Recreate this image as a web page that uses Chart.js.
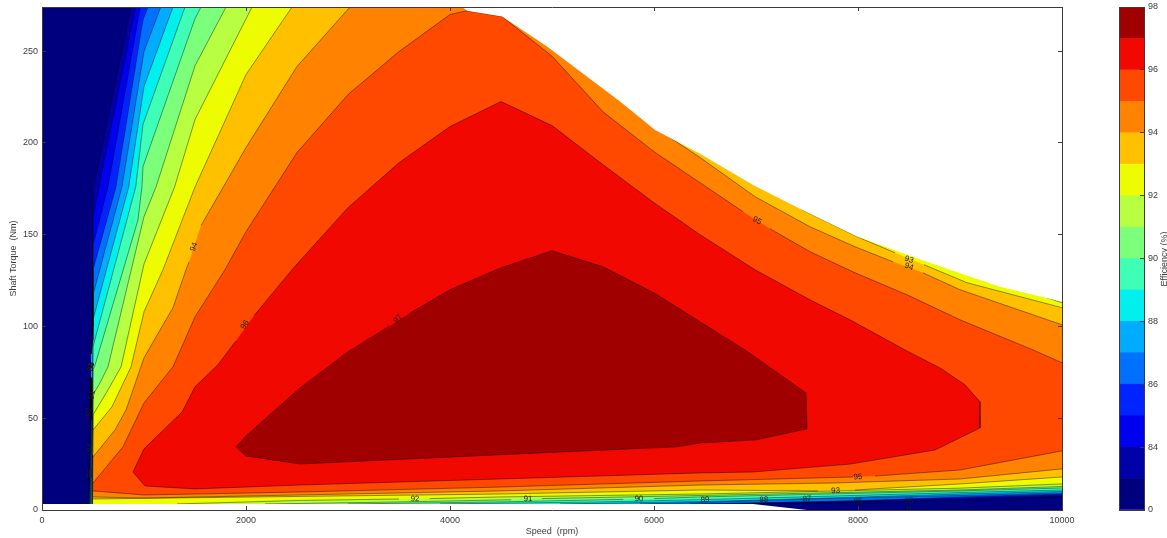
<!DOCTYPE html>
<html>
<head>
<meta charset="utf-8">
<title>Efficiency map</title>
<script src="https://cdn.jsdelivr.net/npm/chart.js@4/dist/chart.umd.min.js"></script>
<style>
html, body { margin: 0; padding: 0; width: 1167px; height: 538px; overflow: hidden; background: #fff; }
canvas { position: absolute; top: 0; }
#map { left: 0; }
#bar { left: 1100px; }
</style>
</head>
<body>
<canvas id="map" width="1167" height="538"></canvas>
<canvas id="bar" width="120" height="538"></canvas>
<script>
// Contour levels, lowest band first. Last entry is the top of the colour bar
var levels = [0, 83, 84, 85, 86, 87, 88, 89, 90, 91, 92, 93, 94, 95, 96, 97];
var bandColors = ['#00007f', '#0000a8', '#0000f1', '#0024ff', '#0070ff', '#00acff', '#02f0ed', '#3fffb7',
                  '#7cff7a', '#b7ff40', '#edfc00', '#ffc000', '#ff8200', '#ff4800', '#f10800', '#a10000'];
var barTicks = ['0', '84', '86', '88', '90', '92', '94', '96', '98'];

// Outline of each "efficiency >= level" region as [speed, torque].
// null = no contour line here (label gap or running along the plot edge)
var edge83 = [[873,274],[500,174.5],[490,92.7],[480,85],null,[480,72],[471,49],[451,3.3],null,[6971,3.3],[8186,4.4],[8500,4.4],[10000,7.1],null,[10000,274]];
var edge84 = [[917,274],[500,159.8],[495,92.7],[480,85],null,[480,72],[476,49],[456,3.3],null,[6843,3.3],[9000,6],[10000,7.6],null,[10000,274]];
var edge85 = [[964,274],[647,176],[500,144.5],[498,92.7],[480,85],null,[480,72],[480,49],[461,3.3],null,[6696,3.3],[9000,6.5],[10000,8.2],null,[10000,274]];
var edge86 = [[1039,274],[990,267],[725,176],[500,130.9],[500,92.7],[481,85],null,[481,72],[485,49],[466,3.3],null,[6353,3.3],[8000,4.9],[9000,7.1],[10000,8.7],null,[10000,274]];
var edge87 = [[1164,274],[1000,249.7],[784,176],[500,117.2],[500,100],[482,85],null,[482,72],[490,49],[471,3.3],null,[5863,3.3],[6451,4.1],[7500,6],[9000,7.9],[10000,9.3],null,[10000,274]];
var edge88 = [[1284,274],[1000,230.7],[850,176],[500,103.6],[494,60],[476,3.3],null,[5078,3.3],[6451,4.6],[7078,5.5],[9000,8.7],[10000,10.1],null,[10000,274]];
var edge89 = [[1402,274],[990,210],[919,176],[500,88.9],[496,50],[480,3.3],null,[3902,3.3],[5471,4.4],[6500,5.7],[9000,9.5],[10000,10.9],null,[10000,274]];
var edge90 = [[1559,274],[1500,267.7],[990,187],[980,176],[941,158],[520,79],[500,76.3],[497,45],[485,3.3],null,[3000,3.3],[4490,4.4],[5700,5.8],null,[6000,6.2],[6451,7.1],[9000,10.4],[10000,12],null,[10000,274]];
var edge91 = [[1804,274],[1500,242],[1118,176],[1000,159.8],[647,78],[569,69.3],[500,62.7],[498,40],[490,3.3],null,[2186,3.3],[3510,4.4],[4600,5.6],null,[4900,6.2],[6451,7.9],[9000,10.9],[10000,12.8],null,[10000,274]];
var edge92 = [[2059,274],[1500,212.7],[1300,176],[1000,134],[775,78],[647,65.4],[500,51.8],[499,30],[495,3.3],null,[1324,3.3],[2529,5.2],[3500,6],null,[3800,6.2],[4490,7.1],[6451,8.7],[9000,11.9],[10000,14.2],null,[10000,112.9],[9853,115.6],[9853,274]];
var edge93 = [[2451,274],[2000,237.2],[1500,176],[1186,130.9],[1000,108],[873,78],[686,56.2],[500,43.6],null,[500,6],[2529,7.4],[4490,8.7],[6451,10.9],[7608,10.4],null,[7971,10.9],[9000,14.2],[10000,18],null,[10000,110.2],[9069,123.8],[8647,133.6],null,[8363,140.1],[7990,148.9],[7451,163.6],[7451,274]];
var edge94 = [[3020,274],[2500,241.6],[2000,197.4],[1560,155],null,[1440,135],[1412,130.9],[1284,110.2],[1000,82.9],[824,54.5],[716,43.6],[500,28.9],null,[500,7.1],[1000,6.5],[2529,8.2],[4490,10.4],[6451,13.6],[7755,14.7],[9000,16.9],[10000,22.4],null,[10000,100.9],[9000,120],[8637,129.2],null,[8343,135.2],[7971,143.4],[7529,154.3],[6990,170.7],[6451,192],[5863,213.8],[5863,274]];
var edge95 = [[4510,268.8],[4167,272],[4000,269.9],[3500,249.7],[3000,226.3],[2500,194.7],[2000,151.6],[1794,130.9],[1500,105.2],[1284,78],[1000,58.3],[794,34.4],[500,14.7],null,[500,10.4],[1000,8.2],[1500,8.7],[2529,9.8],[4490,12.5],[6451,15.8],[7951,18],null,[8167,18.5],[9000,21.8],[10000,32.2],null,[10000,80.2],[9716,87.2],[9000,103.6],[8481,117.2],[7971,129.2],[7529,140.7],[7137,153.2],null,[6873,162.5],[6451,178.3],[6000,195.2],[5500,216.9],[5000,247.2],[4510,268.8]];
var edge96 = [[892,20.7],[1000,33.3],[1373,53.4],[1500,67.1],[1725,79.1],[1900,92],null,[2080,106],[2451,130.9],[2500,134],[3000,164.7],[3500,189.2],[4000,208.9],[4500,222.5],[5000,209.4],[5500,188.1],[6000,167.4],[6451,150],[6990,130.9],[7529,114.5],[7922,103.6],[8461,87.2],[8804,77.4],[9049,68.2],[9196,58.9],[9196,44.7],[8755,32.7],[7922,25],[6971,20.7],[6451,20.2],[2529,13.6],[1500,11.5],[1010,13.1],[892,20.7]];
var edge97 = [[1902,34.4],[2010,40.9],[2529,66.5],[3000,86.2],[3400,100],null,[3600,107],[4000,120],[4500,132],[5000,141.2],[5500,132.5],[6000,118.3],[6451,102.5],[6892,87.2],[7490,63.8],[7500,44.2],[7000,38.2],[6451,36.5],[6225,34.4],[4882,31.1],[2529,25.1],[2000,29.4],[1902,34.4]];
var edges = [edge83, edge84, edge85, edge86, edge87, edge88, edge89, edge90, edge91, edge92, edge93, edge94, edge95, edge96, edge97];

// Parts of the plot where the motor has no data
var plotBox = [[0,0],[10000,0],[10000,274],[0,274]];
var outsideTop = [[4120,274],[4167,272],[4510,268.8],[4951,252.5],[5667,222.5],[6010,207],[6451,194],[6971,177],[7451,163.6],[7990,149],[8481,139],[9000,129],[9392,121.6],[10000,113.4],[10000,274]];
var outsideBottom = [[0,0],[7500,0],[6971,3.3],[0,3.3]];

// Inline contour labels
var labelTexts = ['94','96','97','95','93','94','92','91','90','89','88','87','86','85','95','93','83','84','85','86','87','88','91','92','94','95','0'];
var labelSpeeds = [1490,1990,3490,7010,8500,8500,3657,4765,5853,6500,7078,7500,8000,8500,8000,7780,480,480,480,480,480,480,490,461,471,471,8500];
var labelTorques = [143.4,100.9,104.2,157.6,136.4,132.5,6,6,6,5.5,5.5,6,4.9,4.9,18,10.4,78,78,78,78,78,78,62.7,53.5,34,20,0.8];
var labelAngles = [-70,-55,-50,30,20,20,-2,-2,-2,-2,-2,-3,-3,-3,-5,-3,-85,-85,-85,-85,-85,-85,-85,-85,-85,-85,0];

var inkColor = '#3a3a3a';
var tickFont = { family: '"Liberation Sans", Arial, sans-serif', size: 9 };

function pairs(edge) {
   return edge.map(function (p) {
      return p ? { x: p[0], y: p[1] } : { x: null, y: null };
   });
}

function filled(edge, color) {
   return {
      data: pairs(edge.filter(Boolean)),
      showLine: true, fill: 'shape', backgroundColor: color,
      borderWidth: 0, pointRadius: 0
   };
}

function stroked(edge) {
   return {
      data: pairs(edge),
      showLine: true, fill: false,
      borderColor: 'rgba(0,0,0,0.7)', borderWidth: 0.6, pointRadius: 0
   };
}

// Layers bottom to top. Chart.js paints the first dataset last, hence reverse()
var layers = [filled(plotBox, bandColors[0])];
edges.forEach(function (edge, i) { layers.push(filled(edge, bandColors[i + 1])); });
edges.forEach(function (edge) { layers.push(stroked(edge)); });
layers.push(filled(outsideTop, '#fff'));
layers.push(filled(outsideBottom, '#fff'));
layers.reverse();

// matplotlib style frame: ticks point inwards, all four sides
function frameGrid(ticks) {
   return { drawOnChartArea: false, drawTicks: ticks, tickLength: -4, color: inkColor, z: 2 };
}

// Pin an axis to a fixed thickness, without the label overhang the layout would add
function pin(size) {
   return function (s) {
      if (s.isHorizontal()) { s.height = size; } else { s.width = size; }
      s.paddingTop = s.paddingBottom = s.paddingLeft = s.paddingRight = 0;
   };
}

function sideAxis(axis, position, min, max, step) {
   return {
      type: 'linear', axis: axis, position: position, min: min, max: max,
      grid: frameGrid(true),
      border: { color: inkColor, z: 2 },
      ticks: { display: false, stepSize: step, includeBounds: false },
      afterFit: pin(0)
   };
}

var contourLabels = {
   id: 'contourLabels',
   afterDatasetsDraw: function (chart) {
      var ctx = chart.ctx;
      ctx.save();
      ctx.font = '8px "Liberation Sans", Arial, sans-serif';
      ctx.fillStyle = '#1c1c1c';
      ctx.textAlign = 'center';
      ctx.textBaseline = 'middle';
      labelTexts.forEach(function (text, i) {
         ctx.save();
         ctx.translate(chart.scales.x.getPixelForValue(labelSpeeds[i]), chart.scales.y.getPixelForValue(labelTorques[i]));
         ctx.rotate(labelAngles[i] * Math.PI / 180);
         ctx.fillText(text, 0, 0);
         ctx.restore();
      });
      ctx.restore();
   }
};

new Chart(document.getElementById('map').getContext('2d'), {
   type: 'scatter',
   data: { datasets: layers },
   plugins: [contourLabels],
   options: {
      responsive: false,
      animation: false,
      events: [],
      layout: { padding: { top: 7, right: 105, bottom: 0, left: 0 } },
      plugins: { legend: { display: false }, tooltip: { enabled: false } },
      scales: {
         x: {
            type: 'linear', position: 'bottom', min: 0, max: 10000,
            grid: frameGrid(true),
            border: { color: inkColor, z: 2 },
            ticks: {
               stepSize: 2000, includeBounds: false, maxRotation: 0, autoSkip: false, padding: 9,
               color: inkColor, font: tickFont,
               callback: function (v) { return String(v); }
            },
            title: { display: true, text: 'Speed  (rpm)', color: inkColor, font: tickFont, padding: { top: 0, bottom: 0.6 } },
            afterFit: pin(28)
         },
         y: {
            type: 'linear', position: 'left', min: 0, max: 274,
            grid: frameGrid(true),
            border: { color: inkColor, z: 2 },
            ticks: {
               stepSize: 50, includeBounds: false, padding: 8,
               color: inkColor, font: tickFont,
               callback: function (v) { return String(v); }
            },
            title: { display: true, text: 'Shaft Torque  (Nm)', color: inkColor, font: tickFont, padding: { top: 8.6, bottom: 0 } },
            afterFit: pin(42)
         },
         xTop: sideAxis('x', 'top', 0, 10000, 2000),
         yRight: sideAxis('y', 'right', 0, 274, 50)
      }
   }
});

// Colour bar: one stacked segment per band, evenly spaced as in contourf
var barTitle = {
   id: 'barTitle',
   afterDraw: function (chart) {
      var ctx = chart.ctx;
      ctx.save();
      ctx.translate(65, 259);
      ctx.rotate(-Math.PI / 2);
      ctx.font = '9px "Liberation Sans", Arial, sans-serif';
      ctx.fillStyle = inkColor;
      ctx.textAlign = 'center';
      ctx.textBaseline = 'middle';
      ctx.fillText('Efficiency (%)', 0, 0);
      ctx.restore();
   }
};

new Chart(document.getElementById('bar').getContext('2d'), {
   type: 'bar',
   data: {
      labels: ['Efficiency'],
      datasets: levels.map(function (level, i) {
         return { label: String(level), data: [1], backgroundColor: bandColors[i], barPercentage: 1, categoryPercentage: 1 };
      })
   },
   plugins: [barTitle],
   options: {
      responsive: false,
      animation: false,
      events: [],
      layout: { padding: { top: 7, right: 0, bottom: 28, left: 19 } },
      plugins: { legend: { display: false }, tooltip: { enabled: false } },
      scales: {
         x: {
            stacked: true, position: 'bottom',
            grid: { display: false },
            border: { color: inkColor, z: 2 },
            ticks: { display: false },
            afterFit: pin(0)
         },
         y: {
            type: 'linear', stacked: true, position: 'right', min: 0, max: levels.length,
            grid: frameGrid(true),
            border: { color: inkColor, z: 2 },
            ticks: {
               stepSize: 2, padding: 8, color: inkColor, font: tickFont,
               callback: function (v) { return barTicks[v / 2]; }
            },
            afterFit: pin(76)
         },
         yLeft: {
            type: 'linear', position: 'left', min: 0, max: levels.length,
            grid: { display: false },
            border: { color: inkColor, z: 2 },
            ticks: { display: false },
            afterFit: pin(0)
         },
         xTop: {
            type: 'linear', axis: 'x', position: 'top', min: 0, max: 1,
            grid: { display: false },
            border: { color: inkColor, z: 2 },
            ticks: { display: false },
            afterFit: pin(0)
         }
      }
   }
});
</script>
</body>
</html>
